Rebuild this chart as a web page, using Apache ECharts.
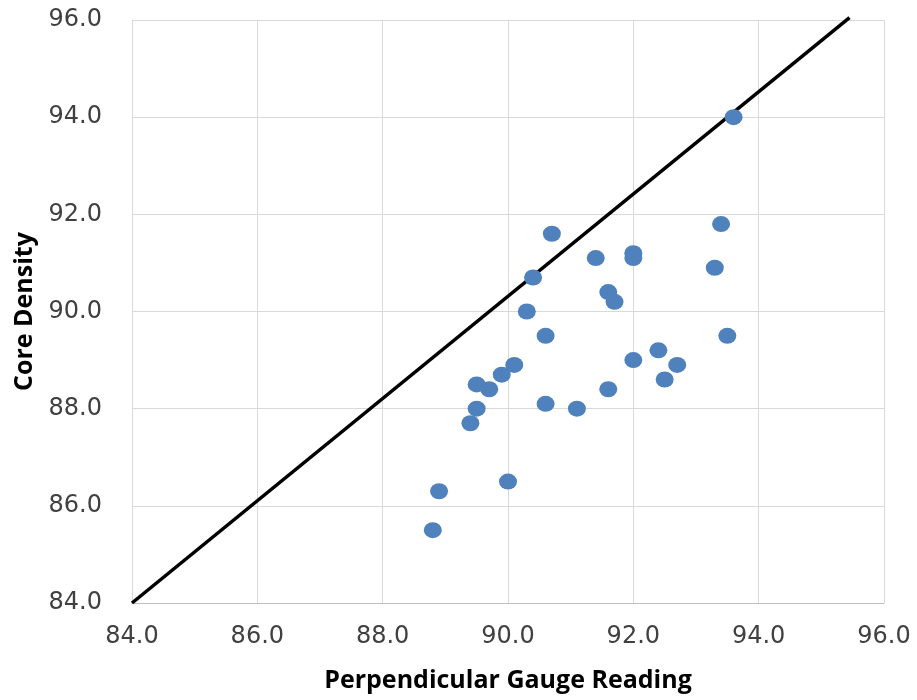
<!DOCTYPE html>
<html>
<head>
<meta charset="utf-8">
<script src="https://cdn.jsdelivr.net/npm/echarts@6/dist/echarts.min.js"></script>
<style>html,body{margin:0;padding:0;background:#fff;}#c{width:917px;height:700px;}</style>
</head>
<body>
<div id="c"></div>
<script>
const gaugeX = [93.6,93.4,90.7,91.4,92.0,92.0,90.4,93.3,91.6,91.7,90.3,90.6,93.5,92.4,92.0,92.7,92.5,90.1,89.9,89.5,89.7,89.5,89.4,90.6,91.1,91.6,90.0,88.9,88.8];
const coreY  = [94.0,91.8,91.6,91.1,91.2,91.1,90.7,90.9,90.4,90.2,90.0,89.5,89.5,89.2,89.0,88.9,88.6,88.9,88.7,88.5,88.4,88.0,87.7,88.1,88.0,88.4,86.5,86.3,85.5];
const lineX = [84.0, 95.45];
const lineY = [84.0, 96.05];
const axisMin = 84, axisMax = 96, axisStep = 2;

const chart = echarts.init(document.getElementById('c'), null, {renderer: 'canvas'});
const labelStyle = {color: '#404040', fontSize: 24, fontFamily: 'DejaVu Sans', formatter: v => v.toFixed(1)};
chart.setOption({
  animation: false,
  backgroundColor: '#ffffff',
  grid: {left: 132, right: 33, top: 20, bottom: 97, containLabel: false},
  xAxis: {
    type: 'value', min: axisMin, max: axisMax, interval: axisStep,
    name: 'Perpendicular Gauge Reading', nameLocation: 'middle', nameGap: 65,
    nameTextStyle: {color: '#000', fontSize: 25, fontWeight: 'bold', fontFamily: 'Open Sans'},
    axisLine: {show: true, lineStyle: {color: '#bfbfbf', width: 1}},
    axisTick: {show: false},
    axisLabel: Object.assign({margin: 22}, labelStyle),
    splitLine: {show: true, lineStyle: {color: '#d9d9d9', width: 1}}
  },
  yAxis: {
    type: 'value', min: axisMin, max: axisMax, interval: axisStep,
    name: 'Core Density', nameLocation: 'middle', nameGap: 94,
    nameTextStyle: {color: '#000', fontSize: 25, fontWeight: 'bold', fontFamily: 'Open Sans'},
    axisLine: {show: true, lineStyle: {color: '#d9d9d9', width: 1}},
    axisTick: {show: false},
    axisLabel: Object.assign({margin: 30}, labelStyle),
    splitLine: {show: true, lineStyle: {color: '#d9d9d9', width: 1}}
  },
  series: [
    {
      type: 'line', data: lineX.map((x, i) => [x, lineY[i]]),
      showSymbol: false, symbol: 'none', clip: false,
      lineStyle: {color: '#000', width: 3.5}, z: 3
    },
    {
      type: 'scatter', data: gaugeX.map((x, i) => [x, coreY[i]]),
      symbol: 'circle', symbolSize: [18, 16],
      itemStyle: {color: '#4f81bd', opacity: 1}, z: 4
    }
  ]
});
</script>
</body>
</html>
